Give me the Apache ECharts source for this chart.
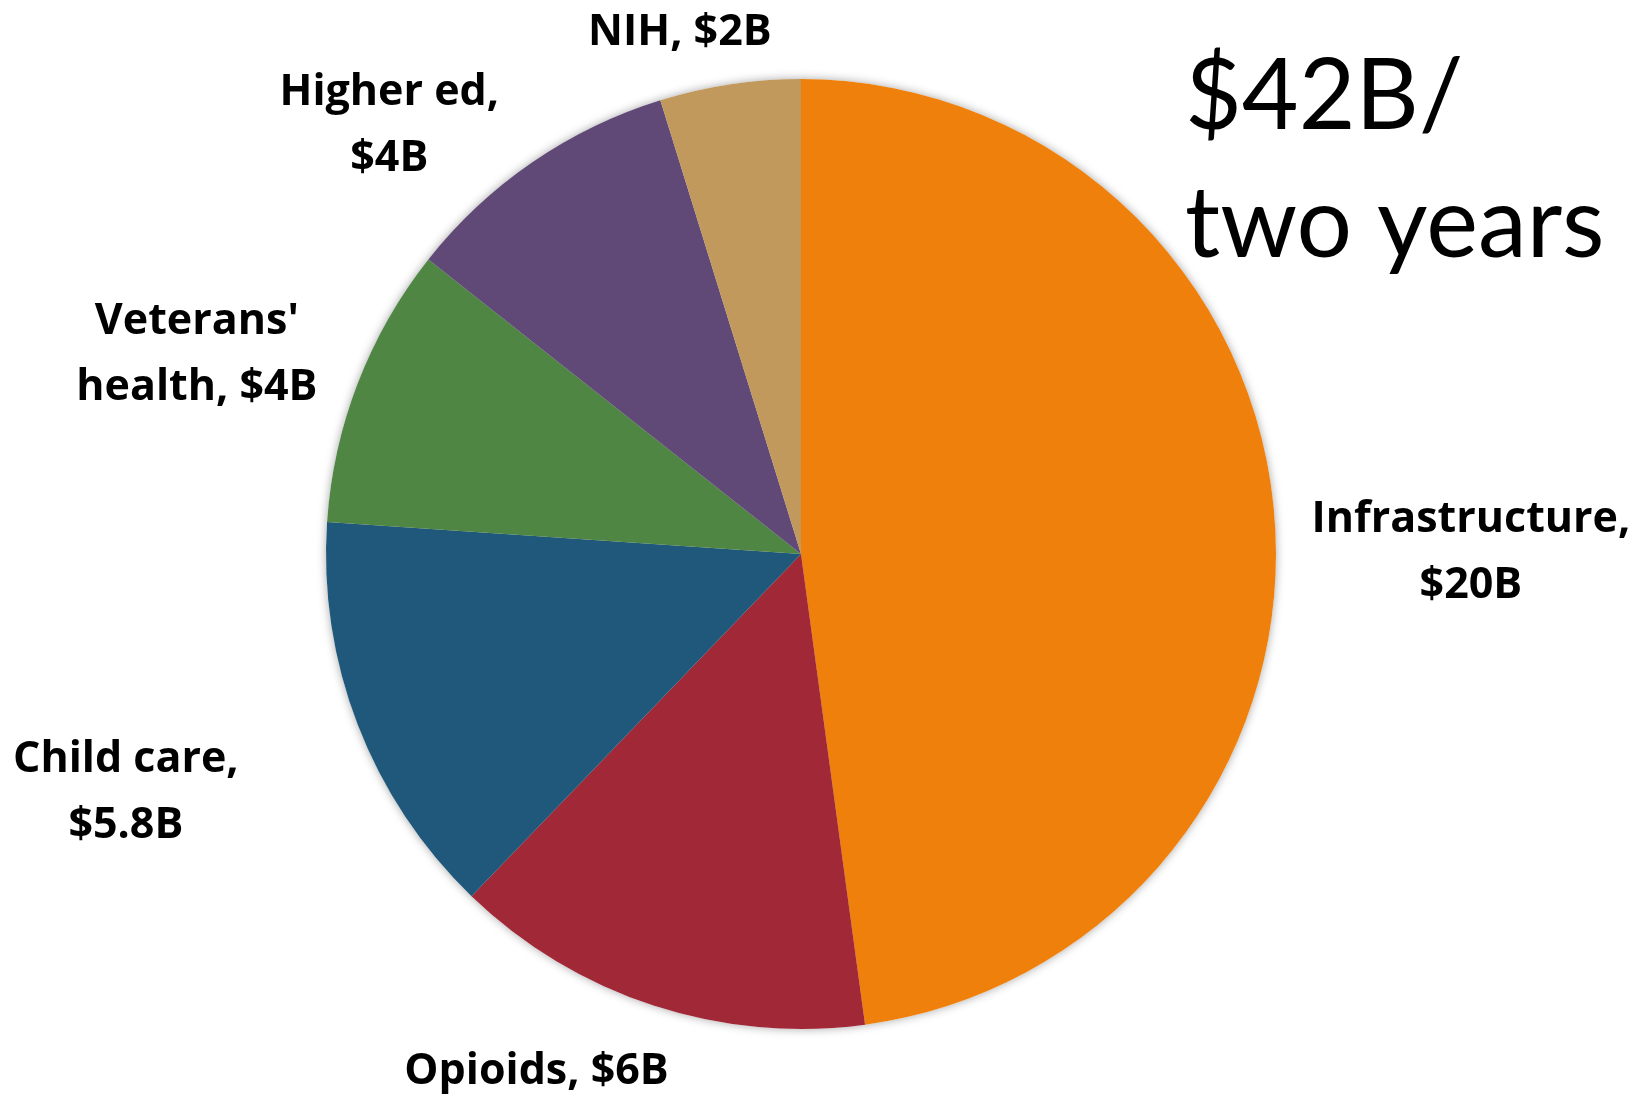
<!DOCTYPE html>
<html>
<head>
<meta charset="utf-8">
<script src="https://cdn.jsdelivr.net/npm/echarts@6/dist/echarts.min.js"></script>
<style>
html,body{margin:0;padding:0;background:#fff;}
#chart{width:1643px;height:1102px;}
</style>
</head>
<body>
<div id="chart"></div>
<script>
const categories = ["Infrastructure", "Opioids", "Child care", "Veterans' health", "Higher ed", "NIH"];
const values = [20, 6, 5.8, 4, 4, 2];
const labelTexts = ["Infrastructure,\n$20B", "Opioids, $6B", "Child care,\n$5.8B", "Veterans'\nhealth, $4B", "Higher ed,\n$4B", "NIH, $2B"];
const titleText = "$42B/\ntwo years";

const colors = ["#EF800C", "#A02837", "#1F587A", "#4F8644", "#604977", "#C1995D"];
const labelOffsets = [[196, 31], [-117, 66], [-232, 68], [-161, -28], [-143, -37], [-50, -52]];

const chart = echarts.init(document.getElementById('chart'), null, {renderer: 'canvas'});

const pieData = categories.map((c, i) => ({
  name: c,
  value: values[i],
  itemStyle: {color: colors[i]},
  label: {formatter: labelTexts[i]}
}));

const option = {
  backgroundColor: '#ffffff',
  animation: false,
  title: {
    text: titleText,
    left: 1180,
    top: 28,
    textStyle: {
      fontFamily: 'Lato',
      fontWeight: 'normal',
      fontSize: 98,
      lineHeight: 128,
      color: '#000'
    }
  },
  series: [
    {
      type: 'pie',
      silent: true,
      center: [801, 554],
      radius: 475,
      startAngle: 90,
      clockwise: true,
      z: 1,
      label: {show: false},
      labelLine: {show: false},
      itemStyle: {color: '#ffffff', shadowBlur: 10, shadowColor: 'rgba(0,0,0,0.35)'},
      data: categories.map((c, i) => ({name: c, value: values[i]}))
    },
    {
      type: 'pie',
      center: [801, 554],
      radius: 475,
      startAngle: 90,
      clockwise: true,
      avoidLabelOverlap: false,
      z: 2,
      itemStyle: {borderWidth: 0},
      label: {
        show: true,
        position: 'outside',
        fontFamily: 'Open Sans',
        fontWeight: 'bold',
        fontSize: 43,
        lineHeight: 66,
        color: '#000',
        align: 'center'
      },
      labelLine: {show: false},
      labelLayout: function (params) {
        const data = chart.getModel().getSeriesByIndex(1).getData();
        const lay = data.getItemLayout(params.dataIndex);
        const a = (lay.startAngle + lay.endAngle) / 2;
        const off = labelOffsets[params.dataIndex];
        return {
          x: lay.cx + lay.r * Math.cos(a) + off[0],
          y: lay.cy + lay.r * Math.sin(a) + off[1],
          align: 'center',
          verticalAlign: 'middle'
        };
      },
      data: pieData
    }
  ]
};
chart.setOption(option);
</script>
</body>
</html>
